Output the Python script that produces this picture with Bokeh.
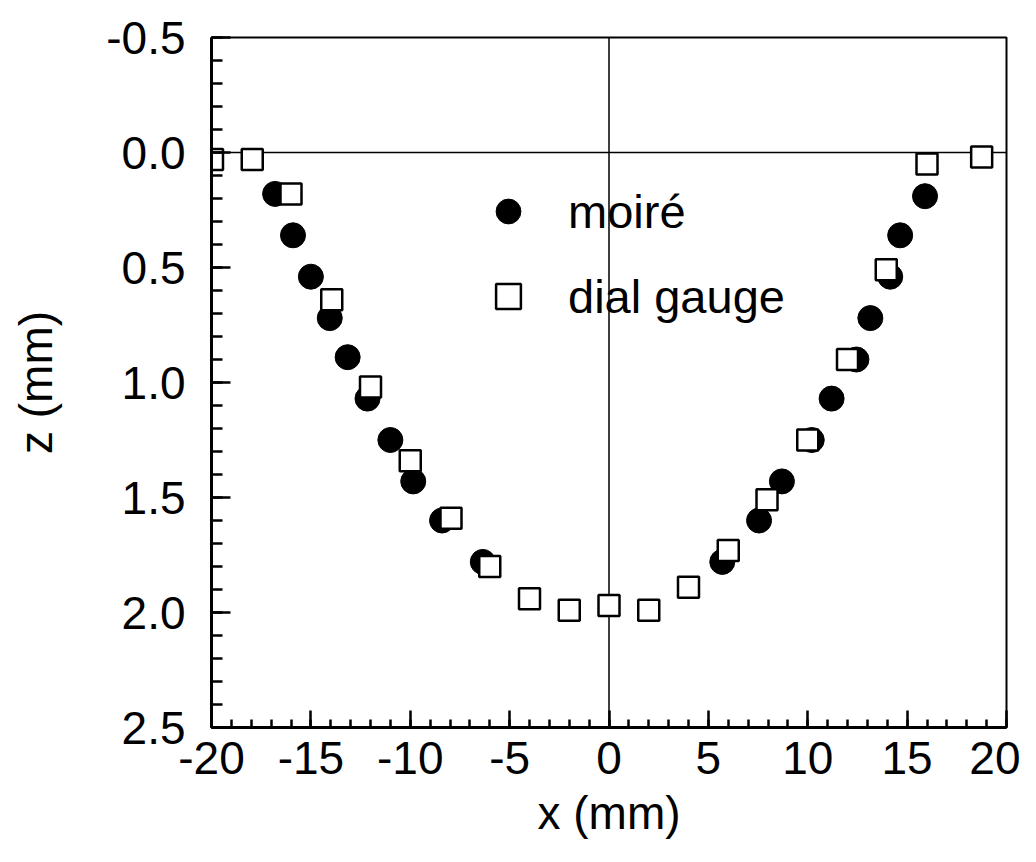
from bokeh.plotting import figure
from bokeh.models import Range1d, FixedTicker, Span, Legend, LegendItem, PrintfTickFormatter
from bokeh.embed import file_html
from bokeh.resources import INLINE

# data
moire_x = [-16.8, -15.9, -15.0, -14.05, -13.15, -12.15, -11.0, -9.85, -8.4, -6.35,
           5.7, 7.55, 8.7, 10.2, 11.2, 12.45, 13.15, 14.15, 14.65, 15.9]
moire_z = [0.18, 0.36, 0.54, 0.72, 0.89, 1.07, 1.25, 1.43, 1.60, 1.78,
           1.78, 1.60, 1.43, 1.25, 1.07, 0.90, 0.72, 0.54, 0.36, 0.19]

dial_x = [-19.95, -17.95, -16.0, -13.95, -12.0, -10.0, -7.95, -6.0, -4.0, -2.0,
          0.0, 2.0, 4.0, 6.0, 7.95, 10.0, 12.0, 13.95, 16.0, 18.75]
dial_z = [0.03, 0.03, 0.18, 0.64, 1.02, 1.34, 1.59, 1.80, 1.94, 1.99,
          1.97, 1.99, 1.89, 1.73, 1.51, 1.25, 0.90, 0.51, 0.05, 0.02]

x_major = [-20, -15, -10, -5, 0, 5, 10, 15, 20]
x_minor = list(range(-20, 21))
y_major = [-0.5, 0.0, 0.5, 1.0, 1.5, 2.0, 2.5]
y_minor = [round(-0.5 + 0.1 * i, 1) for i in range(31)]

FONT = "Liberation Sans"

p = figure(width=1020, height=846, output_backend="svg", toolbar_location=None,
           x_range=Range1d(-20, 20), y_range=Range1d(2.5, -0.5),
           frame_width=795, frame_height=690,
           min_border_left=211, min_border_top=37, min_border_right=14, min_border_bottom=119)

p.xgrid.visible = False
p.ygrid.visible = False
p.outline_line_color = "black"
p.outline_line_width = 2
p.background_fill_color = "white"
p.border_fill_color = "white"

for ax in (p.xaxis[0], p.yaxis[0]):
    ax.axis_line_width = 3
    ax.axis_line_color = "black"
    ax.major_tick_line_width = 2.5
    ax.minor_tick_line_width = 2.5
    ax.major_tick_out = 0
    ax.minor_tick_out = 0
    ax.major_label_text_font = FONT
    ax.major_label_text_font_size = "46px"
    ax.major_label_text_color = "black"
    ax.axis_label_text_font = FONT
    ax.axis_label_text_font_size = "46px"
    ax.axis_label_text_font_style = "normal"
    ax.axis_label_text_color = "black"

p.xaxis.ticker = FixedTicker(ticks=x_major, minor_ticks=x_minor)
p.yaxis.ticker = FixedTicker(ticks=y_major, minor_ticks=y_minor)
p.xaxis.formatter = PrintfTickFormatter(format="%d")
p.yaxis.formatter = PrintfTickFormatter(format="%.1f")
p.xaxis.major_tick_in = 17
p.xaxis.minor_tick_in = 8
p.yaxis.major_tick_in = 19
p.yaxis.minor_tick_in = 11
p.xaxis.major_label_standoff = 14
p.yaxis.major_label_standoff = 26
p.xaxis.axis_label = "x (mm)"
p.yaxis.axis_label = "z (mm)"
p.xaxis.axis_label_standoff = 10
p.yaxis.axis_label_standoff = 41

p.add_layout(Span(location=0, dimension="width", line_color="black", line_width=1.5, level="underlay"))
p.add_layout(Span(location=0, dimension="height", line_color="black", line_width=1.5, level="underlay"))

r1 = p.scatter(moire_x, moire_z, marker="circle", size=25, fill_color="black", line_color="black")
r2 = p.scatter(dial_x, dial_z, marker="square", size=21, fill_color="white", line_color="black", line_width=2.5)

legend = Legend(items=[LegendItem(label="moiré", renderers=[r1]),
                       LegendItem(label="dial gauge", renderers=[r2])],
                location=(266, 400), margin=0, padding=0, spacing=23,
                glyph_width=62, glyph_height=62, label_standoff=29,
                label_text_font=FONT, label_text_font_size="47px",
                label_text_color="black",
                border_line_alpha=0, background_fill_alpha=0)
p.add_layout(legend, "center")

open("out.html", "w").write(file_html(p, INLINE))
